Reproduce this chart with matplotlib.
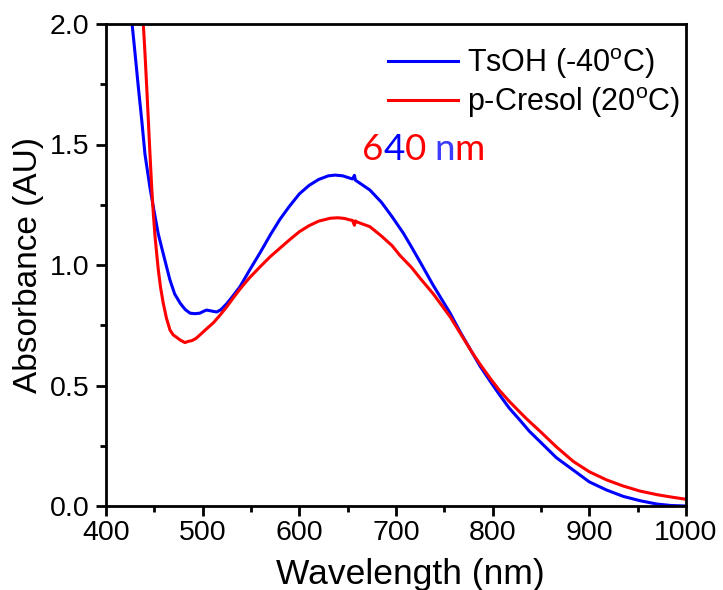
import matplotlib
matplotlib.use("Agg")
import matplotlib.pyplot as plt
import numpy as np

plt.rcParams["font.family"] = ["Liberation Sans", "DejaVu Sans"]
plt.rcParams["mathtext.default"] = "regular"

# TsOH (-40 C)
wl_tsoh = [422, 427, 430, 433.4, 437, 440.3, 445.5, 449, 454, 459, 466, 471, 477,
           482, 487, 492, 497, 501, 504, 508, 514.5, 519, 525, 531, 538.6, 548,
           560, 570, 580, 590, 600, 610, 620, 630, 637, 645, 651, 655, 657, 658,
           665, 673, 685, 696, 707.6, 716, 726, 738.6, 756, 766, 778.3, 787, 797,
           807, 817, 828, 838, 849, 866, 883.4, 900, 918, 935, 952.4, 970, 985,
           1000]
abs_tsoh = [2.25, 2.00, 1.88, 1.74, 1.60, 1.46, 1.32, 1.24, 1.13, 1.05, 0.94,
            0.88, 0.84, 0.815, 0.80, 0.798, 0.80, 0.808, 0.813, 0.81, 0.805,
            0.815, 0.84, 0.87, 0.91, 0.975, 1.055, 1.125, 1.19, 1.245, 1.295,
            1.33, 1.355, 1.37, 1.373, 1.37, 1.362, 1.357, 1.372, 1.352, 1.333,
            1.311, 1.26, 1.20, 1.132, 1.075, 1.005, 0.915, 0.80, 0.725, 0.64,
            0.58, 0.52, 0.462, 0.407, 0.357, 0.31, 0.267, 0.20, 0.149, 0.10,
            0.066, 0.04, 0.022, 0.008, 0.002, 0.0]

# p-Cresol (20 C)
wl_cresol = [436, 438.6, 440.3, 442.1, 443.8, 445.5, 447.3, 449, 450.7, 452.5,
             454.1, 456.5, 459.3, 462.5, 466.2, 469.5, 473, 477, 481.7, 485,
             488.7, 493, 497.2, 504, 511, 518, 525, 531, 538.6, 548, 560, 570,
             580, 590, 600, 610, 620, 632, 640, 647, 651.3, 655, 657, 658, 660,
             673, 685, 696, 704, 716, 726, 738.6, 756, 766, 778.3, 787, 797, 807,
             817, 828, 835, 849, 866, 883.4, 900, 918, 935, 952.4, 970, 985, 1000]
abs_cresol = [2.30, 2.00, 1.88, 1.74, 1.60, 1.46, 1.32, 1.21, 1.12, 1.045, 0.98,
              0.905, 0.84, 0.78, 0.73, 0.71, 0.70, 0.688, 0.678, 0.683, 0.686,
              0.695, 0.71, 0.735, 0.76, 0.792, 0.827, 0.86, 0.90, 0.945, 0.995,
              1.035, 1.07, 1.105, 1.138, 1.163, 1.182, 1.194, 1.196, 1.193, 1.188,
              1.185, 1.165, 1.183, 1.178, 1.159, 1.12, 1.08, 1.04, 0.99, 0.94,
              0.88, 0.785, 0.72, 0.64, 0.588, 0.532, 0.48, 0.435, 0.39, 0.362,
              0.31, 0.245, 0.185, 0.142, 0.108, 0.083, 0.062, 0.047, 0.037, 0.028]

labels = ["TsOH (-40$^{o}$C)", "p-Cresol (20$^{o}$C)"]

fig = plt.figure(figsize=(7.23, 5.90), dpi=100)
ax = fig.add_axes([106 / 723, 1 - 506 / 590, 580 / 723, 482 / 590])

ax.plot(wl_tsoh, abs_tsoh, color="#0000ff", lw=2.2, label=labels[0])
ax.plot(wl_cresol, abs_cresol, color="#ff0000", lw=2.2, label=labels[1])

ax.set_xlim(400, 1000)
ax.set_ylim(0, 2.0)
ax.set_xticks(np.arange(400, 1001, 100))
ax.set_xticks(np.arange(450, 1000, 100), minor=True)
ax.set_yticks(np.arange(0, 2.01, 0.5))
ax.set_yticks(np.arange(0.25, 2.0, 0.5), minor=True)
ax.yaxis.set_major_formatter(matplotlib.ticker.FormatStrFormatter("%.1f"))
ax.tick_params(which="major", length=7, width=2, labelsize=20.5)
ax.tick_params(axis="x", which="major", pad=3)
ax.tick_params(axis="y", which="major", pad=5)
ax.tick_params(which="minor", length=4, width=2)
for s in ax.spines.values():
    s.set_linewidth(2)

ax.set_xlabel("Wavelength (nm)", fontsize=25.5)
ax.xaxis.set_label_coords(0.525, -0.107)
ax.xaxis.label.set_va("top")
ax.set_ylabel("Absorbance (AU)", fontsize=24, labelpad=4)

ax.legend(loc="upper left", frameon=False, fontsize=22, handlelength=2.3,
          handletextpad=0.3, labelspacing=0.15, borderpad=0, borderaxespad=0,
          bbox_to_anchor=(388 / 723, 1 - 46 / 590),
          bbox_transform=fig.transFigure)

# "640 nm" with per-character colours
pieces = [("6", "#ff0000"), ("4", "#0000ff"), ("0", "#ff0000"), (" ", "#ff0000"),
          ("n", "#3c3cff"), ("m", "#ff0000")]
fig.canvas.draw()
r = fig.canvas.get_renderer()
x0, y0 = 362, 590 - 160
for ch, col in pieces:
    t = fig.text(x0 / 723, y0 / 590, ch, color=col, fontsize=26.5,
                 family=["Lato", "DejaVu Sans"], va="baseline", ha="left")
    bb = t.get_window_extent(renderer=r)
    if ch == " ":
        x0 += 8
    else:
        x0 = bb.x1

fig.savefig("out.png", dpi=100)
